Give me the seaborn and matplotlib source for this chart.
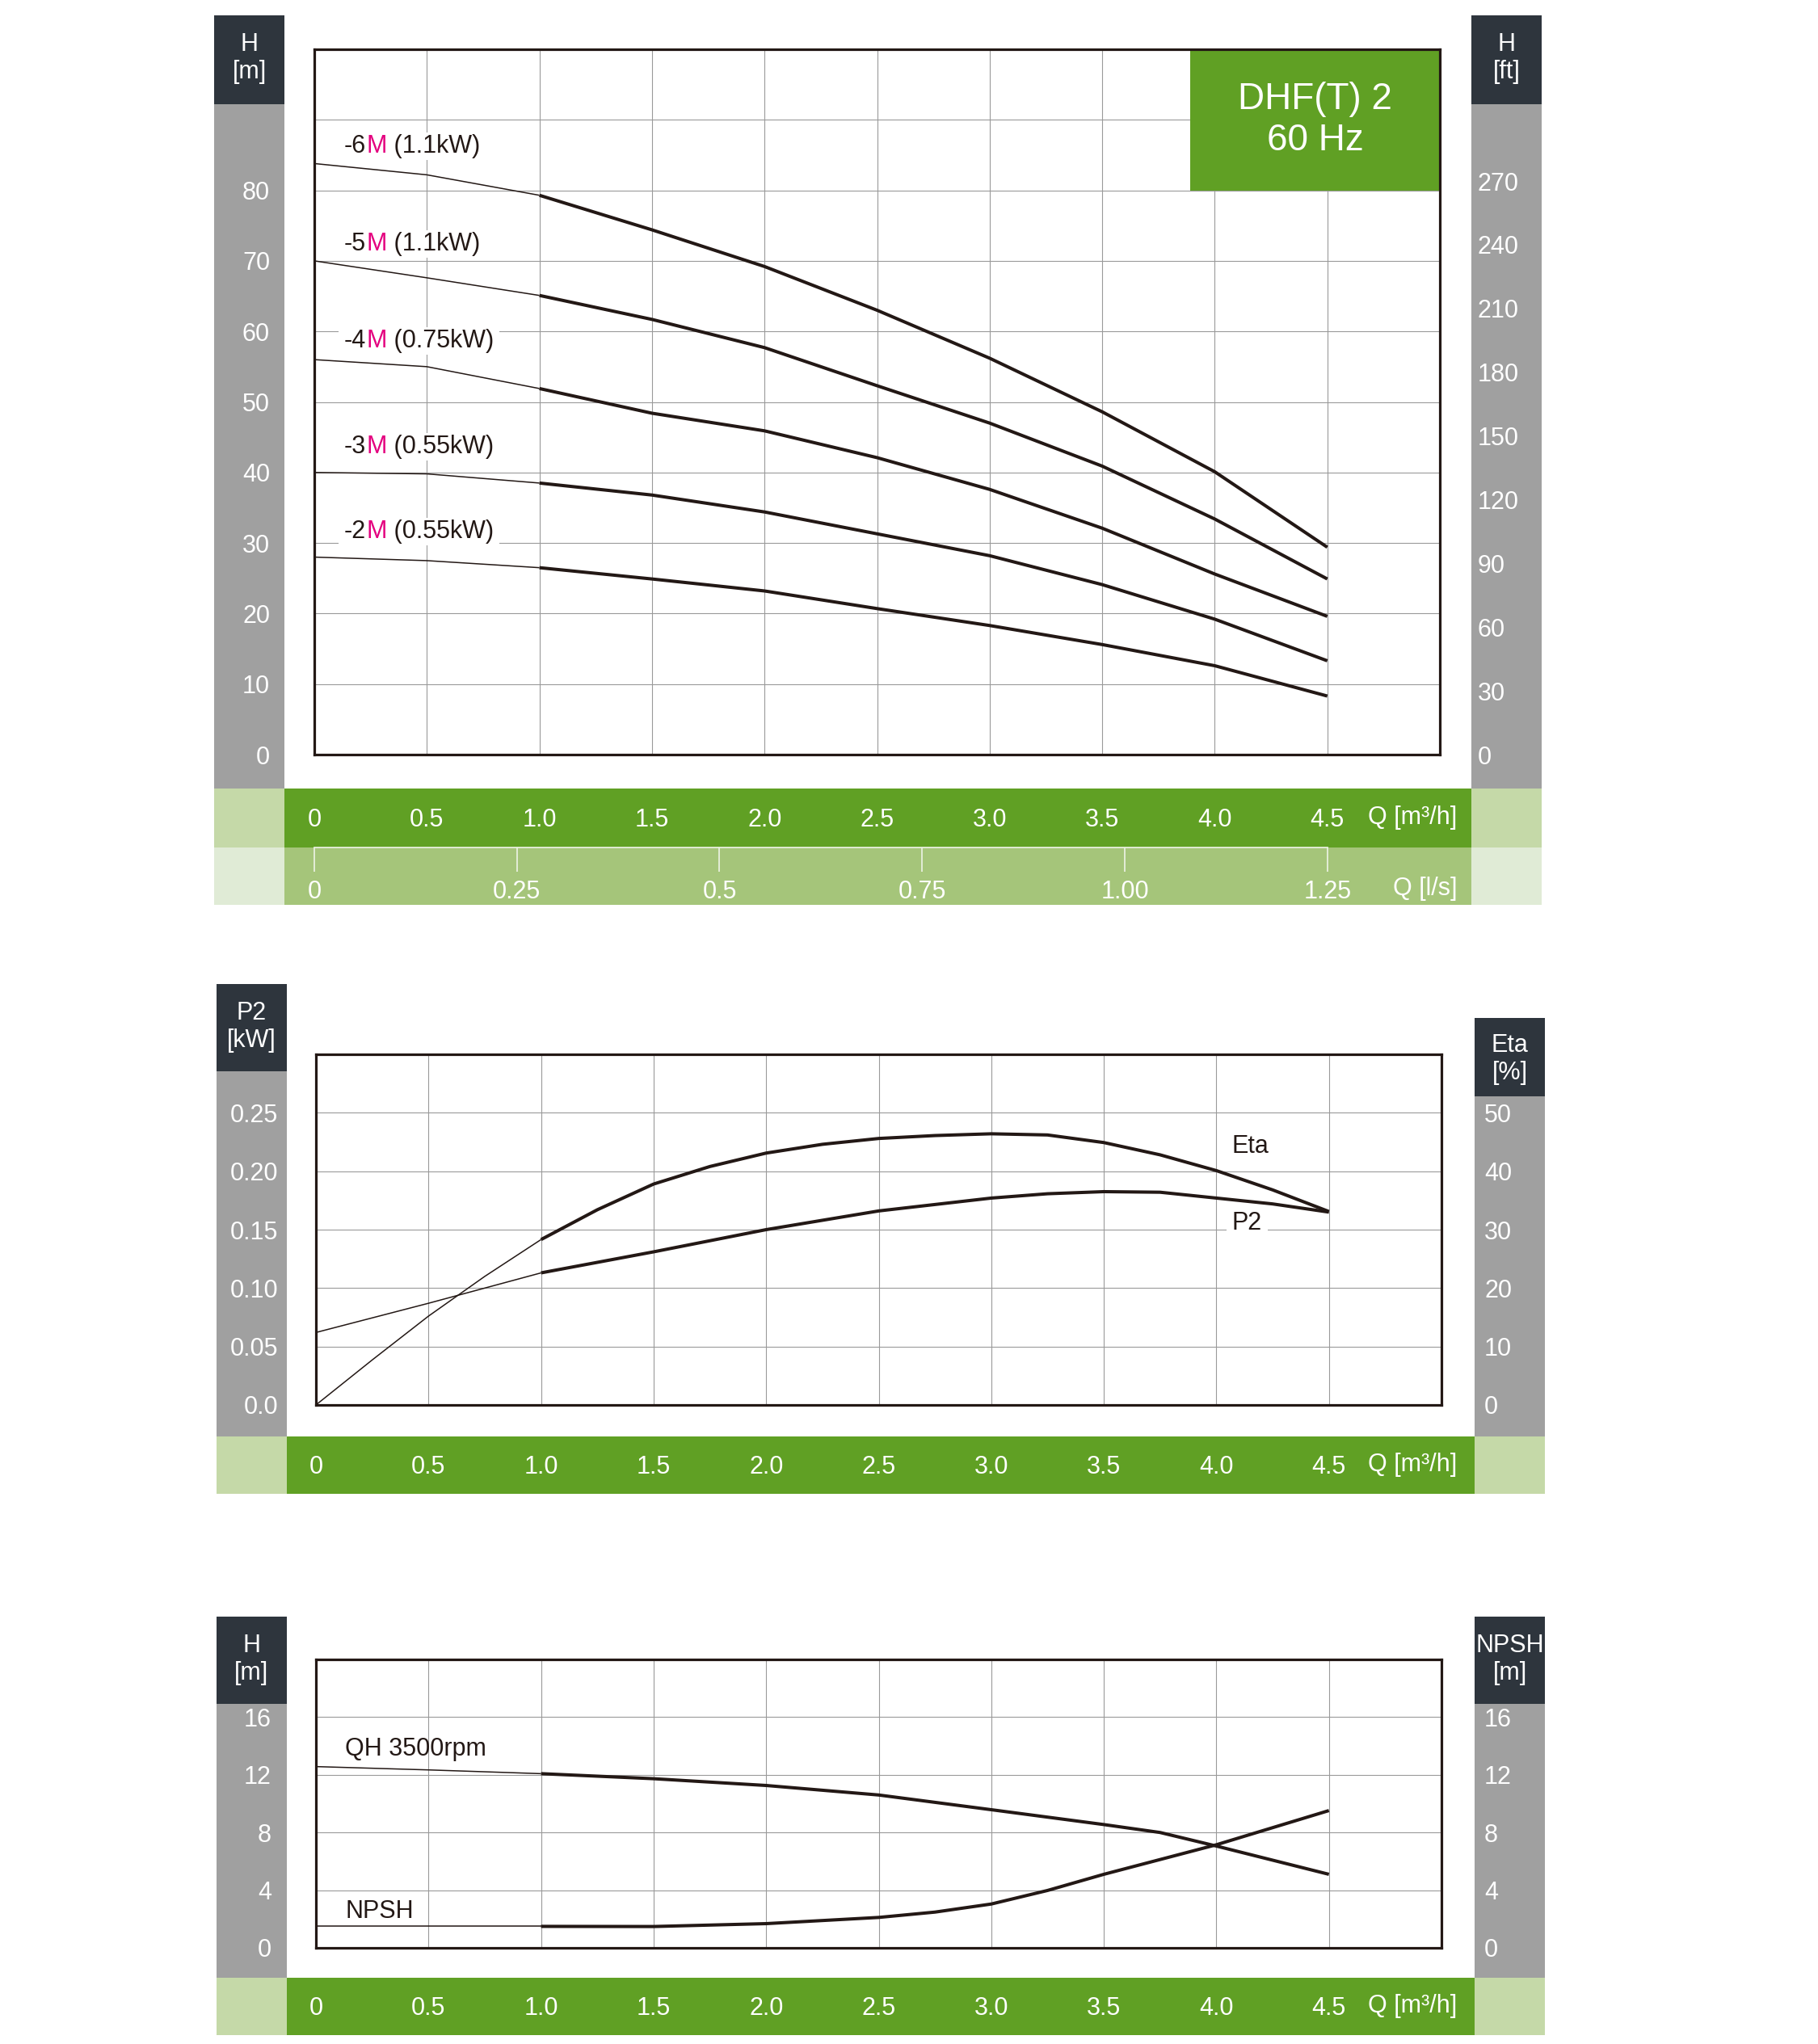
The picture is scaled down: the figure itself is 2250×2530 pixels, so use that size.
import numpy as np
import matplotlib
matplotlib.use("Agg")
import matplotlib.pyplot as plt
import seaborn as sns
from matplotlib.patches import Rectangle
from matplotlib.transforms import Bbox

# ---------------- data ----------------
Q = [0, 0.5, 1.0, 1.5, 2.0, 2.5, 3.0, 3.5, 4.0, 4.5]
H_6M = [83.8, 82.2, 79.3, 74.4, 69.2, 63.0, 56.2, 48.6, 40.1, 29.4]
H_5M = [70.0, 67.6, 65.1, 61.7, 57.7, 52.3, 47.0, 40.9, 33.4, 24.9]
H_4M = [56.0, 55.0, 51.9, 48.4, 45.9, 42.1, 37.6, 32.1, 25.6, 19.6]
H_3M = [40.0, 39.8, 38.5, 36.8, 34.4, 31.3, 28.2, 24.1, 19.2, 13.3]
H_2M = [28.0, 27.5, 26.5, 24.9, 23.2, 20.7, 18.3, 15.6, 12.6, 8.3]
curve_prefix = ["-6", "-5", "-4", "-3", "-2"]
curve_power = [" (1.1kW)", " (1.1kW)", " (0.75kW)", " (0.55kW)", " (0.55kW)"]
curve_label_y = [86.3, 72.4, 58.7, 43.6, 31.6]

Q_ETA = [0, 0.25, 0.5, 0.75, 1.0, 1.25, 1.5, 1.75, 2.0, 2.25, 2.5, 2.75, 3.0,
         3.25, 3.5, 3.75, 4.0, 4.25, 4.5]
ETA = [0, 7.7, 15.2, 22.0, 28.3, 33.4, 37.8, 40.8, 43.1, 44.6, 45.6, 46.1, 46.4,
       46.2, 44.9, 42.8, 40.1, 36.8, 33.1]
Q_P2 = [0, 0.5, 1.0, 1.5, 2.0, 2.5, 3.0, 3.25, 3.5, 3.75, 4.0, 4.25, 4.5]
P2 = [0.062, 0.087, 0.113, 0.131, 0.150, 0.166, 0.177, 0.1807, 0.1825, 0.182,
      0.177, 0.172, 0.165]

Q_QH = [0, 0.5, 1.0, 1.5, 2.0, 2.5, 3.0, 3.5, 3.75, 4.0, 4.5]
QH = [12.57, 12.34, 12.08, 11.73, 11.26, 10.6, 9.58, 8.55, 8.0, 7.06, 5.10]
Q_NPSH = [0, 0.5, 1.0, 1.5, 2.0, 2.5, 2.75, 3.0, 3.25, 3.5, 4.0, 4.5]
NPSH = [1.49, 1.49, 1.49, 1.48, 1.68, 2.11, 2.48, 3.04, 3.98, 5.10, 7.15, 9.52]

Q_TICKS = [0, 0.5, 1.0, 1.5, 2.0, 2.5, 3.0, 3.5, 4.0, 4.5, 5.0]
Q_LABELS = ["0", "0.5", "1.0", "1.5", "2.0", "2.5", "3.0", "3.5", "4.0", "4.5", ""]
LS_TICKS = [0, 0.25, 0.5, 0.75, 1.0, 1.25]
LS_LABELS = ["0", "0.25", "0.5", "0.75", "1.00", "1.25"]
HM_TICKS = list(range(0, 101, 10))
HM_LABELS = ["0", "10", "20", "30", "40", "50", "60", "70", "80", "", ""]
FT_TICKS = list(range(0, 271, 30))
FT_MAX = 332
P2_TICKS = [0, 0.05, 0.10, 0.15, 0.20, 0.25, 0.30]
P2_LABELS = ["0.0", "0.05", "0.10", "0.15", "0.20", "0.25", ""]
ETA_TICKS = [0, 10, 20, 30, 40, 50, 60]
ETA_LABELS = ["0", "10", "20", "30", "40", "50", ""]
NP_TICKS = [0, 4, 8, 12, 16, 20]
NP_LABELS = ["0", "4", "8", "12", "16", ""]

# ---------------- style ----------------
GREEN = "#60a024"
LGREEN = "#c5d9a8"
LSBAR = "#a5c57a"
VLGREEN = "#e0ebd6"
GRAY = "#a0a0a0"
DARK = "#2e353d"
INK = "#231815"
MAGENTA = "#e4007f"
GRID = "#9a9a9a"
FS = 22

sns.set_theme(style="white")
plt.rcParams["font.family"] = ["Liberation Sans", "DejaVu Sans"]

W, H = 2250, 2530
DPI = 100
PT = 72.0 / DPI
fig = plt.figure(figsize=(W / DPI, H / DPI), dpi=DPI)
fig.patch.set_facecolor("white")


def box(x0, y0, x1, y1):
    return [x0 / W, 1 - y1 / H, (x1 - x0) / W, (y1 - y0) / H]


def rect(x0, y0, x1, y1, color):
    fig.add_artist(Rectangle((x0 / W, 1 - y1 / H), (x1 - x0) / W, (y1 - y0) / H,
                             transform=fig.transFigure, facecolor=color,
                             edgecolor="none", zorder=-5))


def ftext(x, y, s, **kw):
    kw.setdefault("color", "white")
    kw.setdefault("fontsize", FS)
    fig.text(x / W, 1 - y / H, s, **kw)


def draw_curve(ax, q, v, split=1.0):
    q = np.asarray(q, float)
    v = np.asarray(v, float)
    m1 = q <= split
    m2 = q >= split
    sns.lineplot(x=q[m1], y=v[m1], ax=ax, color=INK, lw=1.1, estimator=None,
                 sort=False, solid_capstyle="butt")
    sns.lineplot(x=q[m2], y=v[m2], ax=ax, color=INK, lw=2.9, estimator=None,
                 sort=False, solid_capstyle="butt", solid_joinstyle="round")


def setup_axes(ax, yticks, ylabels, ylim, plot_bottom_px, bar_center_px, left_pad_px):
    ax.set_xlim(0, 5.0)
    ax.set_ylim(*ylim)
    ax.set_axisbelow(True)
    ax.set_xticks(Q_TICKS)
    ax.set_xticklabels(Q_LABELS)
    ax.set_yticks(yticks)
    ax.set_yticklabels(ylabels)
    ax.grid(True, color=GRID, lw=0.8)
    for sp in ax.spines.values():
        sp.set_visible(True)
        sp.set_color(INK)
        sp.set_linewidth(2.3)
    ax.tick_params(axis="x", length=0, labelcolor="white", labelsize=FS,
                   pad=(bar_center_px - plot_bottom_px + 3) * PT)
    for lbl in ax.get_xticklabels():
        lbl.set_va("center")
    ax.tick_params(axis="y", length=0, labelcolor="white", labelsize=FS,
                   pad=left_pad_px * PT)
    ax.set_xlabel("")
    ax.set_ylabel("")


def setup_twin(ax2, yticks, ylabels, ylim, pad_px):
    ax2.set_ylim(*ylim)
    ax2.set_yticks(yticks)
    ax2.set_yticklabels(ylabels)
    ax2.grid(False)
    for sp in ax2.spines.values():
        sp.set_visible(False)
    ax2.tick_params(axis="y", length=0, labelcolor="white", labelsize=FS,
                    pad=pad_px * PT, right=True, labelright=True,
                    left=False, labelleft=False)
    ax2.set_ylabel("")


def side_columns(lx0, lx1, rx0, rx1, ldark, rdark, gray_end, bar_end):
    rect(lx0, ldark[0], lx1, ldark[1], DARK)
    rect(lx0, ldark[1], lx1, gray_end, GRAY)
    rect(rx0, rdark[0], rx1, rdark[1], DARK)
    rect(rx0, rdark[1], rx1, gray_end, GRAY)
    rect(lx0, gray_end, lx1, bar_end, LGREEN)
    rect(rx0, gray_end, rx1, bar_end, LGREEN)
    rect(lx1, gray_end, rx0, bar_end, GREEN)


# ====================== TOP CHART ======================
side_columns(265, 352, 1821, 1908, (19, 129), (19, 129), 976, 1049)
rect(265, 1049, 352, 1120, VLGREEN)
rect(1821, 1049, 1908, 1120, VLGREEN)
rect(352, 1049, 1821, 1120, LSBAR)

ax1 = fig.add_axes(box(389, 61, 1782, 934))
setup_axes(ax1, HM_TICKS, HM_LABELS, (0, 100), 934, 1012, 55)
for hv in [H_6M, H_5M, H_4M, H_3M, H_2M]:
    draw_curve(ax1, Q, hv)

# title box
ax1.add_patch(Rectangle((3.89, 80), 5.0 - 3.89, 20, facecolor=GREEN,
                        edgecolor="none", zorder=1.5))
ax1.text((3.89 + 5.0) / 2, 90, "DHF(T) 2\n60 Hz", ha="center", va="center",
         color="white", fontsize=33, linespacing=1.22, zorder=3)

# curve labels with magenta "M"
label_groups = []
for pre, pw, ly in zip(curve_prefix, curve_power, curve_label_y):
    t1 = ax1.text(0.133, ly, pre, ha="left", va="center", color=INK,
                  fontsize=FS, zorder=3)
    t2 = ax1.annotate("M", xy=(1, 0), xycoords=t1, ha="left", va="bottom",
                      color=MAGENTA, fontsize=FS, zorder=3)
    t3 = ax1.annotate(pw, xy=(1, 0), xycoords=t2, ha="left", va="bottom",
                      color=INK, fontsize=FS, zorder=3)
    label_groups.append((t1, t2, t3))

ax1r = ax1.twinx()
setup_twin(ax1r, FT_TICKS, [str(v) for v in FT_TICKS], (0, FT_MAX), 47)

# l/s secondary axis
loc = -(1049 - 934) / (934 - 61)
sec = ax1.secondary_xaxis(loc, functions=(lambda q: q / 3.6, lambda l: l * 3.6))
sec.set_xticks(LS_TICKS)
sec.set_xticklabels(LS_LABELS)
LSLINE = "#e8f0de"
sec.spines["bottom"].set_color(LSLINE)
sec.spines["bottom"].set_linewidth(1.3)
sec.spines["bottom"].set_bounds(0, 1.25)
sec.tick_params(axis="x", direction="out", length=30 * PT, width=1.3,
                color=LSLINE, labelcolor="white", labelsize=FS, pad=25 * PT)
for lbl in sec.get_xticklabels():
    lbl.set_va("center")

ftext(1803, 1012, "Q [m³/h]", ha="right", va="center")
ftext(1803, 1100, "Q [l/s]", ha="right", va="center")
ftext(308.5, 72, "H\n[m]", ha="center", va="center", linespacing=1.2)
ftext(1864.5, 72, "H\n[ft]", ha="center", va="center", linespacing=1.2)

# ====================== MIDDLE CHART ======================
side_columns(268, 355, 1825, 1912, (1218, 1326), (1260, 1357), 1778, 1849)
ax2 = fig.add_axes(box(391, 1305, 1784, 1739))
setup_axes(ax2, P2_TICKS, P2_LABELS, (0, 0.30), 1739, 1813.5, 47)
draw_curve(ax2, Q_P2, P2)
ax2r = ax2.twinx()
setup_twin(ax2r, ETA_TICKS, ETA_LABELS, (0, 60), 53)
draw_curve(ax2r, Q_ETA, ETA)
ax2r.set_ylabel("")
ax2.text(4.07, 0.221, "Eta", ha="left", va="center", color=INK, fontsize=FS,
         bbox=dict(facecolor="white", edgecolor="none", pad=4), zorder=3)
ax2.text(4.07, 0.1555, "P2", ha="left", va="center", color=INK, fontsize=FS,
         bbox=dict(facecolor="white", edgecolor="none", pad=5), zorder=3)
ftext(1803, 1813.5, "Q [m³/h]", ha="right", va="center")
ftext(311.5, 1271, "P2\n[kW]", ha="center", va="center", linespacing=1.2)
ftext(1868.5, 1311, "Eta\n[%]", ha="center", va="center", linespacing=1.2)

# ====================== BOTTOM CHART ======================
side_columns(268, 355, 1825, 1912, (2001, 2109), (2001, 2109), 2448, 2519)
ax3 = fig.add_axes(box(391, 2054, 1784, 2411))
setup_axes(ax3, NP_TICKS, NP_LABELS, (0, 20), 2411, 2483.5, 55)
draw_curve(ax3, Q_QH, QH)
draw_curve(ax3, Q_NPSH, NPSH)
ax3r = ax3.twinx()
setup_twin(ax3r, NP_TICKS, NP_LABELS, (0, 20), 53)
ax3.text(0.13, 13.8, "QH 3500rpm", ha="left", va="center", color=INK,
         fontsize=FS, zorder=3)
ax3.text(0.13, 2.5, "NPSH", ha="left", va="center", color=INK, fontsize=FS,
         zorder=3)
ftext(1803, 2483.5, "Q [m³/h]", ha="right", va="center")
ftext(311.5, 2054, "H\n[m]", ha="center", va="center", linespacing=1.2)
ftext(1868.5, 2054, "NPSH\n[m]", ha="center", va="center", linespacing=1.2)

# white backing behind each curve label (covers the gridlines like the reference)
fig.canvas.draw()
renderer = fig.canvas.get_renderer()
inv = ax1.transData.inverted()
for grp in label_groups:
    bb = Bbox.union([t.get_window_extent(renderer) for t in grp])
    padpx = 7
    (x0, y0), (x1, y1) = inv.transform([[bb.x0 - padpx, bb.y0 - 2],
                                        [bb.x1 + padpx, bb.y1 + 2]])
    ax1.add_patch(Rectangle((x0, y0), x1 - x0, y1 - y0, facecolor="white",
                            edgecolor="none", zorder=2.7))

fig.savefig("out.png", dpi=DPI, facecolor="white")
